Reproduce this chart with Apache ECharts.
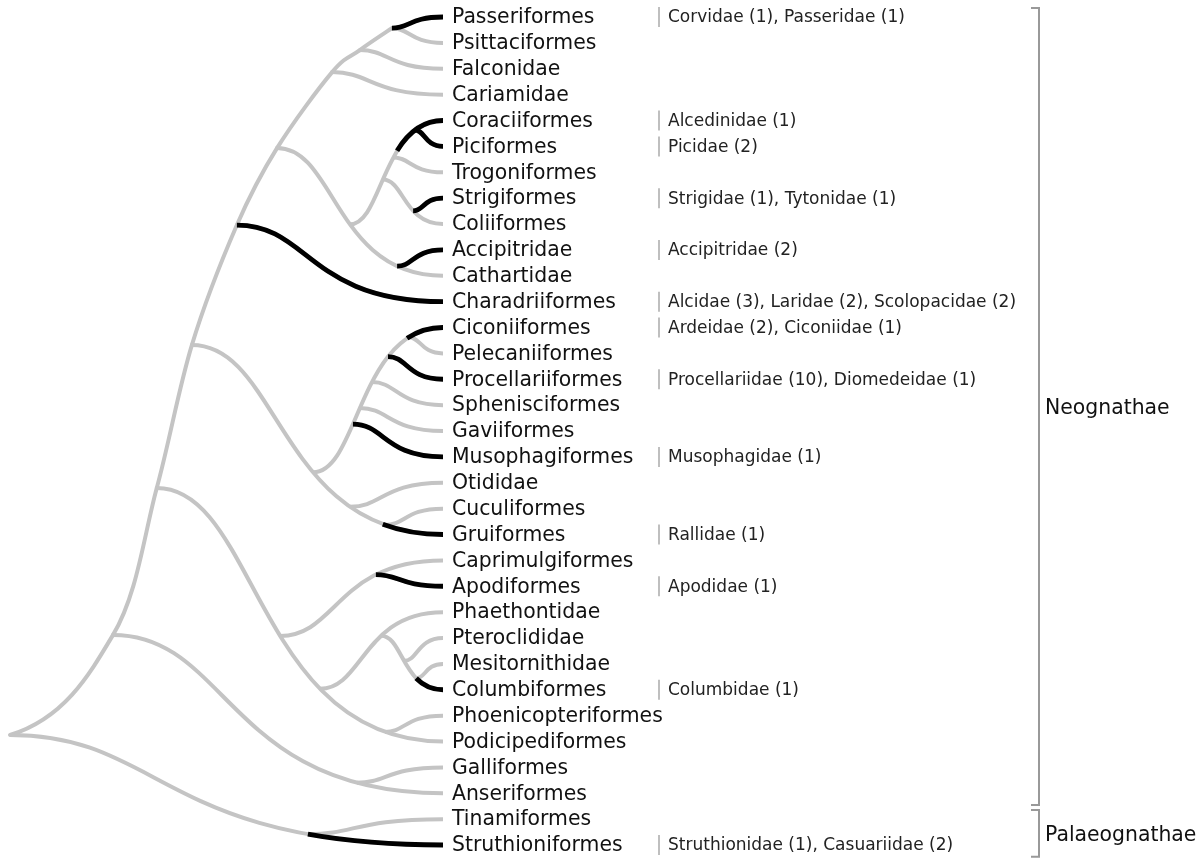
<!DOCTYPE html>
<html>
<head>
<meta charset="utf-8">
<script src="https://cdn.jsdelivr.net/npm/echarts@6/dist/echarts.min.js"></script>
<style>
  html, body { margin: 0; padding: 0; background: #fff; }
  #chart { width: 1203px; height: 863px; }
</style>
</head>
<body>
<div id="chart"></div>
<script>
// tips of the tree, top to bottom
let leafNames = ['Passeriformes', 'Psittaciformes', 'Falconidae', 'Cariamidae', 'Coraciiformes',
    'Piciformes', 'Trogoniformes', 'Strigiformes', 'Coliiformes', 'Accipitridae', 'Cathartidae',
    'Charadriiformes', 'Ciconiiformes', 'Pelecaniiformes', 'Procellariiformes', 'Sphenisciformes',
    'Gaviiformes', 'Musophagiformes', 'Otididae', 'Cuculiformes', 'Gruiformes', 'Caprimulgiformes',
    'Apodiformes', 'Phaethontidae', 'Pteroclididae', 'Mesitornithidae', 'Columbiformes',
    'Phoenicopteriformes', 'Podicipediformes', 'Galliformes', 'Anseriformes', 'Tinamiformes',
    'Struthioniformes'];

// families found, next to the tips
let familyNotes = ['Corvidae (1), Passeridae (1)', '', '', '', 'Alcedinidae (1)', 'Picidae (2)', '',
    'Strigidae (1), Tytonidae (1)', '', 'Accipitridae (2)', '', 'Alcidae (3), Laridae (2), Scolopacidae (2)',
    'Ardeidae (2), Ciconiidae (1)', '', 'Procellariidae (10), Diomedeidae (1)', '', '', 'Musophagidae (1)',
    '', '', 'Rallidae (1)', '', 'Apodidae (1)', '', '', '', 'Columbidae (1)', '', '', '', '', '',
    'Struthionidae (1), Casuariidae (2)'];

// the long backbone from the root up to the top: its nodes (depth, row)
let spineX = [0, 23.8, 33.9, 42.0, 52.4, 61.7, 74.4, 80.8, 88.2];
let spineY = [27.75, 23.88, 18.20, 12.68, 8.04, 5.06, 2.13, 1.28, 0.43];

// each tip's curve leaves the curve of another tip (-1 = a backbone node)
let branchFrom = [-1, -1, -1, -1, 10, 4, 4, 8, 4, 10, -1, -1, 20, 12, 12, 12, 12, 12, 20, 20, -1, 28,
    21, 28, 26, 26, 23, 28, -1, 30, -1, 32, -1];

// depth where it leaves (root = 0, tips = 100)
let branchAt = [88.2, 88.2, 80.8, 74.4, 78.5, 93.5, 88.5, 93.1, 86.1, 89.4, 61.7, 52.4, 70.0, 92.1,
    87.3, 83.6, 80.8, 79.2, 78.5, 86.6, 42.0, 62.4, 84.5, 71.6, 91.0, 93.8, 85.7, 86.6, 33.9, 80.1,
    23.8, 68.8, 0];

// depth from where the curve is black (null = grey all the way)
let blackFrom = [88.2, null, null, null, 89.4, 93.5, null, 93.1, null, 89.4, null, 52.4, 91.7, null,
    87.3, null, null, 79.2, null, null, 86.1, null, 84.5, null, null, null, 93.8, null, null, null,
    null, null, 68.8];

let cladeNames = ['Neognathae', 'Palaeognathae'];
let cladeFirst = [0, 31];
let cladeLast = [30, 32];

var dom = document.getElementById('chart');
var myChart = echarts.init(dom);

var GREY = '#c4c4c4';

function bez(c, t) {
    let u = 1 - t;
    let a = u * u * u, b = 3 * u * u * t, d = 3 * u * t * t, e = t * t * t;
    return [a * c[0][0] + b * c[1][0] + d * c[2][0] + e * c[3][0],
            a * c[0][1] + b * c[1][1] + d * c[2][1] + e * c[3][1]];
}

function tAtX(c, x) {
    let lo = 0, hi = 1;
    for (let k = 0; k < 40; k++) {
        let m = (lo + hi) / 2;
        if (bez(c, m)[0] < x) lo = m; else hi = m;
    }
    return (lo + hi) / 2;
}

function lerp(p, q, t) {
    return [p[0] + (q[0] - p[0]) * t, p[1] + (q[1] - p[1]) * t];
}

// part of the curve from t to the end
function tail(c, t) {
    let a = lerp(c[0], c[1], t), b = lerp(c[1], c[2], t), g = lerp(c[2], c[3], t);
    let d = lerp(a, b, t), e = lerp(b, g, t);
    return [lerp(d, e, t), e, g, c[3]];
}

// s-curve from where the branch leaves to the tip
function curveOf(api, i) {
    let end = api.coord([100, i]);
    let start;
    if (branchFrom[i] < 0) {
        let k = spineX.indexOf(branchAt[i]);
        start = api.coord([spineX[k], spineY[k]]);
    } else {
        let p = curveOf(api, branchFrom[i]);
        let sx = api.coord([branchAt[i], 0])[0];
        start = [sx, bez(p, tAtX(p, sx))[1]];
    }
    let cx = start[0] + 0.35 * (end[0] - start[0]);
    return [start, [cx, start[1]], [cx, end[1]], end];
}

function curveShape(c) {
    return {
        x1: c[0][0], y1: c[0][1], cpx1: c[1][0], cpy1: c[1][1],
        cpx2: c[2][0], cpy2: c[2][1], x2: c[3][0], y2: c[3][1]
    };
}

// backbone: catmull-rom piece from node k to node k+1
function renderSpine(params, api) {
    let k = params.dataIndex;
    let n = spineX.length;
    if (k >= n - 1) return;
    let pt = j => api.coord([spineX[j], spineY[j]]);
    let p1 = pt(k), p2 = pt(k + 1);
    let p0 = k > 0 ? pt(k - 1) : [p1[0] - 220, p1[1]];
    let p3 = k + 2 < n ? pt(k + 2) : [2 * p2[0] - p1[0], 2 * p2[1] - p1[1]];
    let c = [p1,
        [p1[0] + (p2[0] - p0[0]) / 6, p1[1] + (p2[1] - p0[1]) / 6],
        [p2[0] - (p3[0] - p1[0]) / 6, p2[1] - (p3[1] - p1[1]) / 6],
        p2];
    return {
        type: 'bezierCurve',
        shape: curveShape(c),
        style: { stroke: GREY, lineWidth: 4, fill: null, lineCap: 'round' }
    };
}

function renderGrey(params, api) {
    let c = curveOf(api, params.dataIndex);
    return {
        type: 'bezierCurve',
        shape: curveShape(c),
        style: { stroke: GREY, lineWidth: 4, fill: null, lineCap: 'butt' }
    };
}

function renderBlack(params, api) {
    let i = params.dataIndex;
    if (blackFrom[i] == null) return;
    let c = curveOf(api, i);
    let bx = api.coord([blackFrom[i], 0])[0];
    let part = tail(c, tAtX(c, bx));
    return {
        type: 'bezierCurve',
        shape: curveShape(part),
        style: { stroke: '#000', lineWidth: 4.8, fill: null, lineCap: 'butt' }
    };
}

function renderLabel(params, api) {
    let i = params.dataIndex;
    let p = api.coord([100, i]);
    let kids = [{
        type: 'text',
        x: p[0] + 9, y: p[1] + 1,
        style: {
            text: leafNames[i], fill: '#111', fontSize: 20.4, fontFamily: 'DejaVu Sans',
            align: 'left', verticalAlign: 'middle'
        }
    }];
    if (familyNotes[i]) {
        kids.push({
            type: 'line',
            shape: { x1: p[0] + 216, y1: p[1] - 10, x2: p[0] + 216, y2: p[1] + 10 },
            style: { stroke: '#aaa', lineWidth: 1.5 }
        });
        kids.push({
            type: 'text',
            x: p[0] + 225, y: p[1] + 1,
            style: {
                text: familyNotes[i], fill: '#222', fontSize: 17, fontFamily: 'DejaVu Sans',
                align: 'left', verticalAlign: 'middle'
            }
        });
    }
    return { type: 'group', children: kids };
}

function renderClade(params, api) {
    let k = params.dataIndex;
    let top = api.coord([100, cladeFirst[k] - 0.35]);
    let bot = api.coord([100, cladeLast[k] + 0.45]);
    let bx = top[0] + 596;
    return {
        type: 'group',
        children: [{
            type: 'polyline',
            shape: { points: [[bx - 8, top[1]], [bx, top[1]], [bx, bot[1]], [bx - 8, bot[1]]] },
            style: { stroke: '#999', lineWidth: 2, fill: null }
        }, {
            type: 'text',
            x: bx + 6, y: (top[1] + bot[1]) / 2 + 2,
            style: {
                text: cladeNames[k], fill: '#111', fontSize: 20.4, fontFamily: 'DejaVu Sans',
                align: 'left', verticalAlign: 'middle'
            }
        }]
    };
}

let tipData = leafNames.map((n, i) => [100, i]);

var option = {
    animation: false,
    backgroundColor: '#fff',
    grid: { left: 10, top: 17, width: 433, height: 828 },
    xAxis: { type: 'value', min: 0, max: 100, show: false },
    yAxis: { type: 'value', min: 0, max: 32, inverse: true, show: false },
    series: [
        { type: 'custom', renderItem: renderSpine, data: spineX.map((x, k) => [x, spineY[k]]), z: 1, clip: false },
        { type: 'custom', renderItem: renderGrey, data: tipData, z: 1, clip: false },
        { type: 'custom', renderItem: renderBlack, data: tipData, z: 2, clip: false },
        { type: 'custom', renderItem: renderLabel, data: tipData, z: 3, clip: false },
        { type: 'custom', renderItem: renderClade, data: cladeNames.map((n, k) => [100, cladeFirst[k]]), z: 3, clip: false }
    ]
};

myChart.setOption(option);
</script>
</body>
</html>
